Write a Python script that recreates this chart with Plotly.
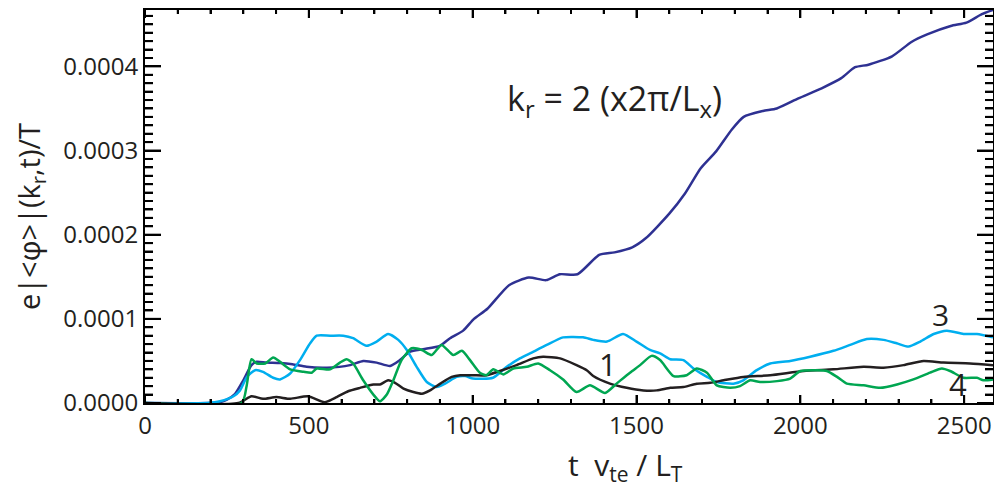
import plotly.graph_objects as go

# ---- data (values in units of 1e-4) ----
t_k2 = [0, 200, 229, 250, 275, 300, 325, 341, 370, 412, 450, 493, 555, 626, 666, 707, 748, 778, 809, 849,
        900, 931, 971, 1004, 1045, 1111, 1171, 1224, 1266, 1320, 1386, 1433, 1487, 1529, 1600, 1648, 1696,
        1743, 1791, 1827, 1886, 1928, 1994, 2065, 2125, 2167, 2208, 2280, 2339, 2387, 2459, 2507, 2554, 2588]
v_k2 = [0, 0, 0.01, 0.04, 0.11, 0.27, 0.45, 0.49, 0.48, 0.475, 0.46, 0.43, 0.42, 0.45, 0.50, 0.48, 0.44,
        0.51, 0.61, 0.64, 0.68, 0.77, 0.86, 1.0, 1.12, 1.40, 1.49, 1.46, 1.53, 1.53, 1.76, 1.79, 1.85, 1.96,
        2.25, 2.49, 2.79, 2.99, 3.25, 3.40, 3.47, 3.50, 3.62, 3.74, 3.86, 3.99, 4.02, 4.12, 4.29, 4.38, 4.48,
        4.52, 4.62, 4.67]

t_k3 = [0, 190, 229, 270, 290, 311, 336, 360, 391, 412, 443, 473, 504, 524, 565, 605, 635, 676, 707, 742,
        773, 799, 829, 860, 890, 916, 951, 977, 1001, 1062, 1104, 1144, 1180, 1226, 1276, 1337, 1368, 1410,
        1459, 1500, 1541, 1572, 1603, 1643, 1674, 1715, 1745, 1796, 1826, 1867, 1908, 1969, 2030, 2101,
        2152, 2203, 2254, 2294, 2330, 2366, 2407, 2447, 2498, 2539, 2588]
v_k3 = [0, 0, 0.02, 0.08, 0.15, 0.31, 0.39, 0.37, 0.30, 0.28, 0.35, 0.51, 0.71, 0.80, 0.80, 0.80, 0.77,
        0.68, 0.73, 0.82, 0.75, 0.63, 0.43, 0.25, 0.19, 0.23, 0.31, 0.32, 0.29, 0.30, 0.43, 0.53, 0.60,
        0.69, 0.78, 0.78, 0.75, 0.73, 0.82, 0.73, 0.63, 0.59, 0.52, 0.51, 0.41, 0.31, 0.25, 0.23, 0.27,
        0.39, 0.47, 0.50, 0.55, 0.62, 0.69, 0.76, 0.75, 0.71, 0.67, 0.73, 0.82, 0.86, 0.82, 0.82, 0.78]

t_k1 = [0, 285, 325, 360, 401, 443, 497, 548, 585, 620, 656, 697, 717, 742, 763, 789, 819, 845, 870, 901,
        936, 962, 1001, 1042, 1083, 1134, 1185, 1215, 1267, 1317, 1348, 1368, 1419, 1470, 1521, 1562,
        1603, 1643, 1684, 1725, 1766, 1826, 1908, 2010, 2101, 2193, 2254, 2315, 2376, 2437, 2518, 2588]
v_k1 = [0, 0, 0.08, 0.05, 0.07, 0.05, 0.08, 0.01, 0.07, 0.14, 0.18, 0.22, 0.22, 0.27, 0.24, 0.17, 0.13,
        0.11, 0.15, 0.23, 0.31, 0.33, 0.33, 0.33, 0.38, 0.45, 0.53, 0.55, 0.53, 0.45, 0.39, 0.32, 0.23,
        0.18, 0.15, 0.15, 0.18, 0.19, 0.23, 0.24, 0.27, 0.31, 0.33, 0.38, 0.40, 0.43, 0.42, 0.45, 0.50,
        0.48, 0.47, 0.45]

t_k4 = [0, 295, 310, 325, 341, 367, 391, 412, 443, 484, 509, 524, 565, 595, 615, 635, 666, 697, 717, 738,
        758, 783, 814, 845, 875, 905, 941, 967, 992, 1022, 1042, 1063, 1093, 1124, 1165, 1200, 1236, 1276,
        1317, 1358, 1404, 1439, 1480, 1511, 1546, 1572, 1613, 1653, 1684, 1715, 1745, 1786, 1816, 1847,
        1877, 1929, 1969, 2000, 2051, 2081, 2112, 2142, 2193, 2244, 2295, 2345, 2396, 2432, 2457, 2498,
        2539, 2559, 2588]
v_k4 = [0, 0, 0.2, 0.52, 0.47, 0.47, 0.54, 0.49, 0.40, 0.37, 0.36, 0.41, 0.40, 0.48, 0.52, 0.47, 0.27,
        0.10, 0.02, 0.10, 0.27, 0.51, 0.65, 0.63, 0.57, 0.69, 0.57, 0.62, 0.51, 0.36, 0.33, 0.40, 0.34,
        0.41, 0.43, 0.47, 0.39, 0.28, 0.13, 0.21, 0.12, 0.23, 0.36, 0.45, 0.56, 0.51, 0.32, 0.33, 0.41,
        0.36, 0.21, 0.18, 0.20, 0.27, 0.25, 0.26, 0.29, 0.38, 0.39, 0.38, 0.31, 0.23, 0.21, 0.18, 0.22,
        0.28, 0.36, 0.41, 0.38, 0.30, 0.30, 0.27, 0.28]

x_tick_step = 500
x_minor_step = 100
y_tick_step = 0.0001
y_minor_step = 0.00001
X_MAX = 2588
Y_MAX = 0.000467

SCALE = 1e-4
FONT = "Open Sans"

series = [
    (t_k2, v_k2, "#2E3192"),
    (t_k3, v_k3, "#00AEEF"),
    (t_k1, v_k1, "#231F20"),
    (t_k4, v_k4, "#00A651"),
]

fig = go.Figure()
for t, v, c in series:
    fig.add_trace(go.Scatter(x=t, y=[a * SCALE for a in v], mode="lines",
                             line=dict(color=c, width=2.5, shape="spline", smoothing=0.6),
                             showlegend=False, hoverinfo="skip"))

axis_common = dict(showline=True, linecolor="black", linewidth=2, mirror="ticks",
                   ticks="inside", tickcolor="black", tickwidth=2,
                   showgrid=False, zeroline=False,
                   tickfont=dict(family=FONT, size=24, color="#231F20"))

fig.update_xaxes(range=[0, X_MAX], dtick=x_tick_step, tick0=0, ticklen=8,
                 minor=dict(ticks="inside", ticklen=4, tickwidth=2, tickcolor="black", dtick=x_minor_step),
                 **axis_common)
fig.update_yaxes(range=[0, Y_MAX], dtick=y_tick_step, tick0=0, tickformat=".4f", ticklen=16,
                 minor=dict(ticks="inside", ticklen=8, tickwidth=2, tickcolor="black", dtick=y_minor_step),
                 **axis_common)

# explicit tick marks on all four sides (anchored to the axes, lengths in pixels)
tick_line = dict(color="black", width=2)
n_xminor = int(X_MAX // x_minor_step)
for i in range(n_xminor + 1):
    xv = i * x_minor_step
    ln = 8 if xv % x_tick_step == 0 else 4
    for anchor, sgn in ((0, 1), (1, -1)):
        fig.add_shape(type="line", xref="x", yref="paper", ysizemode="pixel", yanchor=anchor,
                      x0=xv, x1=xv, y0=0, y1=sgn * ln, line=tick_line, layer="above")
n_yminor = int(round(Y_MAX / y_minor_step))
for j in range(n_yminor + 1):
    yv = j * y_minor_step
    if yv > Y_MAX:
        break
    ln = 16 if j % 10 == 0 else 8
    for anchor, sgn in ((0, 1), (1, -1)):
        fig.add_shape(type="line", xref="paper", yref="y", xsizemode="pixel", xanchor=anchor,
                      x0=0, x1=sgn * ln, y0=yv, y1=yv, line=tick_line, layer="above")

ann_font = dict(family=FONT, color="#231F20")
fig.add_annotation(x=1432, y=3.6 * SCALE, xref="x", yref="y", showarrow=False,
                   xanchor="center", yanchor="middle",
                   text="k<sub>r</sub> = 2 (x2π/L<sub>x</sub>)", font=dict(size=34, **ann_font))
fig.add_annotation(x=1413, y=0.46 * SCALE, xref="x", yref="y", showarrow=False,
                   text="1", font=dict(size=31, **ann_font))
fig.add_annotation(x=2427, y=1.05 * SCALE, xref="x", yref="y", showarrow=False,
                   text="3", font=dict(size=30, **ann_font))
fig.add_annotation(x=2482, y=0.23 * SCALE, xref="x", yref="y", showarrow=False,
                   text="4", font=dict(size=31, **ann_font))
fig.add_annotation(x=-0.1356, y=0.473, xref="paper", yref="paper", showarrow=False, textangle=-90,
                   xanchor="center", yanchor="middle",
                   text="e|&lt;φ&gt;|(k<sub>r</sub>,t)/T", font=dict(size=29, **ann_font))
fig.add_annotation(x=0.567, y=-0.16, xref="paper", yref="paper", showarrow=False,
                   xanchor="center", yanchor="middle",
                   text="t\u00a0\u00a0v<sub>te</sub> / L<sub>T</sub>", font=dict(size=30, **ann_font))

fig.update_layout(width=994, height=487, margin=dict(l=145, r=1, t=10, b=84),
                  template="none", plot_bgcolor="white", paper_bgcolor="white")

fig.write_html("out.html", config={"displayModeBar": False},
               post_script="document.body.style.margin='0';")
